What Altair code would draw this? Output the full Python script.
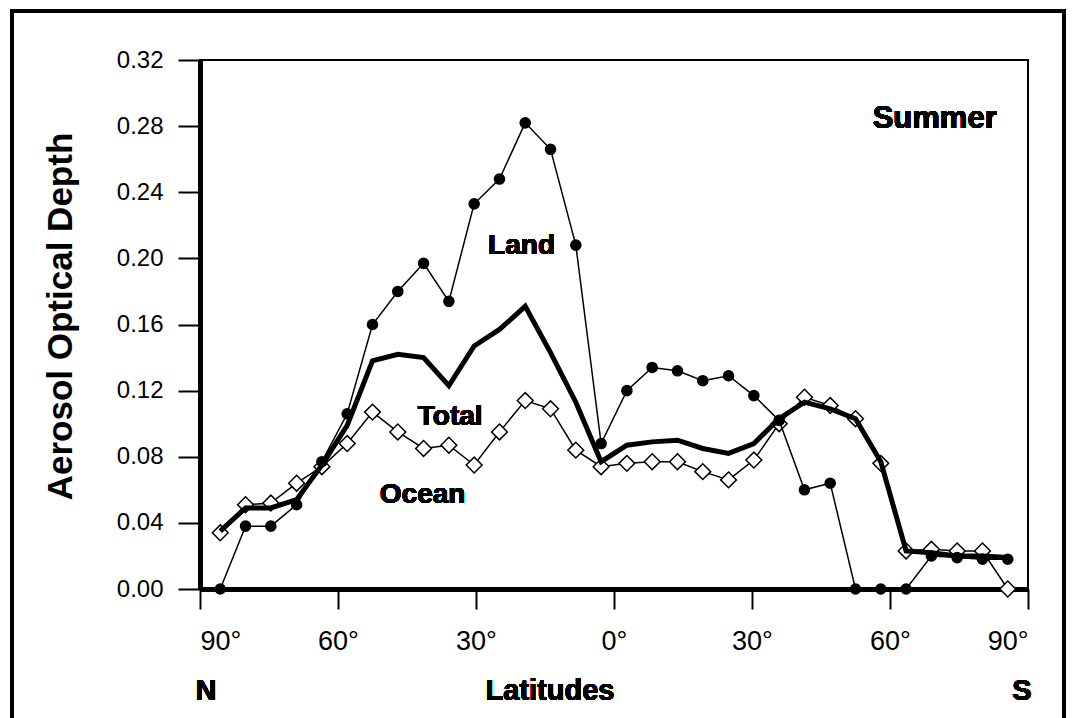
import altair as alt
import pandas as pd

# Latitude of each zonal band (positive = North, negative = South)
lat = [85.6, 80.1, 74.6, 69.0, 63.5, 58.0, 52.5, 47.0, 41.4, 35.9, 30.4, 24.9, 19.3, 13.8, 8.3, 2.8,
       -2.8, -8.3, -13.8, -19.3, -24.9, -30.4, -35.9, -41.4, -47.0, -52.5, -58.0, -63.5, -69.0, -74.6, -80.1, -85.6]
land = [0.000, 0.038, 0.038, 0.051, 0.077, 0.106, 0.160, 0.180, 0.197, 0.174, 0.233, 0.248, 0.282, 0.266, 0.208, 0.088,
        0.120, 0.134, 0.132, 0.126, 0.129, 0.117, 0.102, 0.060, 0.064, 0.000, 0.000, 0.000, 0.020, 0.019, 0.018, 0.018]
ocean = [0.034, 0.051, 0.052, 0.064, 0.074, 0.088, 0.107, 0.095, 0.085, 0.087, 0.075, 0.095, 0.114, 0.109, 0.084, 0.074,
         0.076, 0.077, 0.077, 0.071, 0.066, 0.078, 0.100, 0.116, 0.111, 0.103, 0.076, 0.023, 0.024, 0.023, 0.023, 0.000]
total = [0.035, 0.049, 0.049, 0.054, 0.075, 0.099, 0.138, 0.142, 0.140, 0.123, 0.147, 0.157, 0.171, 0.143, 0.113, 0.077,
         0.087, 0.089, 0.090, 0.085, 0.082, 0.088, 0.103, 0.113, 0.109, 0.103, 0.077, 0.023, 0.022, 0.020, 0.020, 0.019]

x_ticks = [90, 60, 30, 0, -30, -60, -90]
y_ticks = [0.00, 0.04, 0.08, 0.12, 0.16, 0.20, 0.24, 0.28, 0.32]

df = pd.DataFrame({"lat": lat, "land": land, "ocean": ocean, "total": total})

W, H = 828, 529
FONT = "Liberation Sans"

xenc = alt.X(
    "lat:Q",
    scale=alt.Scale(domain=[-90, 90], reverse=True, nice=False, zero=False),
    axis=alt.Axis(
        values=x_ticks,
        labelExpr="abs(datum.value) + '°'",
        title=None,
        labelFont=FONT, labelFontSize=27, labelPadding=19,
        tickSize=20, tickWidth=2, tickColor="black",
        domainWidth=5, domainColor="black",
        labelColor="black", grid=False,
    ),
)


def yenc(field):
    return alt.Y(
        f"{field}:Q",
        scale=alt.Scale(domain=[0, 0.32], nice=False, zero=True),
        axis=alt.Axis(
            values=y_ticks,
            format=".2f",
            title="Aerosol Optical Depth",
            titleFont=FONT, titleFontSize=35, titleFontWeight="bold",
            titleX=-122, titleY=256,
            labelFont=FONT, labelFontSize=24, labelPadding=15,
            tickSize=22, tickWidth=2, tickColor="black",
            domainWidth=5, domainColor="black",
            labelColor="black", titleColor="black", grid=False,
        ),
    )


base = alt.Chart(df)

ocean_line = base.mark_line(color="black", strokeWidth=1.5).encode(x=xenc, y=yenc("ocean"))
ocean_pts = base.mark_point(shape="diamond", filled=True, fill="white", stroke="black",
                            strokeWidth=1.5, size=250, opacity=1).encode(x=xenc, y=yenc("ocean"))
total_line = base.mark_line(color="black", strokeWidth=5).encode(x=xenc, y=yenc("total"))
land_line = base.mark_line(color="black", strokeWidth=1.5).encode(x=xenc, y=yenc("land"))
land_pts = base.mark_circle(color="black", size=135, opacity=1).encode(x=xenc, y=yenc("land"))


def label(text, lat_v, val, align="center", size=28):
    return alt.Chart(df).mark_text(
        text=text, font=FONT, fontSize=size, fontWeight="bold", color="black",
        align=align, baseline="alphabetic",
    ).encode(x=alt.datum(lat_v), y=alt.datum(val))


t_land = label("Land", 20.1, 0.2027)
t_total = label("Total", 35.6, 0.0992)
t_ocean = label("Ocean", 41.6, 0.052)
t_summer = label("Summer", -83.2, 0.2789, align="right", size=31)


def bottom_text(text, xpix):
    return alt.Chart(df).mark_text(
        text=text, font=FONT, fontSize=29, fontWeight="bold", color="black",
        align="center", baseline="alphabetic",
    ).encode(x=alt.value(xpix), y=alt.value(H + 111))


t_n = bottom_text("N", 6)
t_lat = bottom_text("Latitudes", 350)
t_s = bottom_text("S", W - 6)

frame = alt.Chart(df).mark_rect(fill=None, stroke="black", strokeWidth=3).encode(
    x=alt.value(-188), x2=alt.value(864), y=alt.value(-49), y2=alt.value(675))

chart = alt.layer(
    frame, ocean_line, ocean_pts, total_line, land_line, land_pts,
    t_land, t_total, t_ocean, t_summer, t_n, t_lat, t_s,
).properties(
    width=W, height=H,
    autosize=alt.AutoSizeParams(type="none"),
    padding={"left": 200, "top": 60, "right": 44, "bottom": 129},
    background="white",
).configure_view(stroke="black", strokeWidth=2)

chart.save("out.html", embed_options={"renderer": "svg", "actions": False})
